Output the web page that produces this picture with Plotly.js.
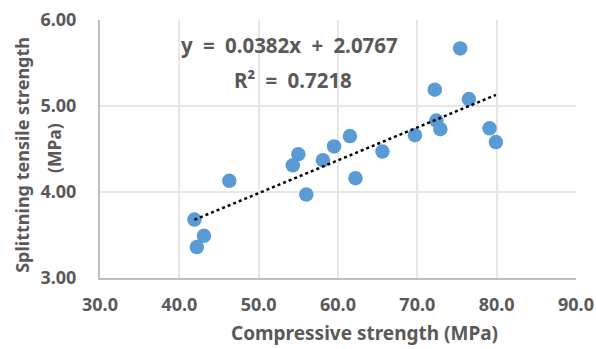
<!DOCTYPE html>
<html><head><meta charset="utf-8">
<script src="https://cdn.plot.ly/plotly-3.0.1.min.js"></script>
<style>body{margin:0;background:#fff}#c{width:596px;height:349px}</style>
</head><body><div id="c"></div>
<script>
const compressive = [41.9, 42.2, 43.1, 46.3, 54.3, 55.0, 56.0, 58.1, 59.5, 61.5, 62.2, 65.6, 69.7, 72.2, 72.4, 72.9, 75.4, 76.5, 79.1, 79.9];
const tensile     = [3.68, 3.36, 3.49, 4.13, 4.31, 4.44, 3.97, 4.37, 4.53, 4.65, 4.16, 4.47, 4.66, 5.19, 4.83, 4.73, 5.67, 5.08, 4.74, 4.58];
const slope = 0.0382, intercept = 2.0767, r2 = 0.7218;
const xTicks = [30, 40, 50, 60, 70, 80, 90];
const yTicks = [3, 4, 5, 6];
const xTitle = 'Compressive strength (MPa)';
const yTitleLines = ['Splittning tensile strength', '(MPa)'];

const xMin = Math.min(...compressive), xMax = Math.max(...compressive);
const trendX = [xMin, xMax];
const trendY = trendX.map(v => slope * v + intercept);

const fontFam = "Noto Sans, Open Sans, sans-serif";
const grey = "#595959";
const sp = '\u2002';
const f = s => ({family: fontFam, size: s, color: grey, weight: 'bold'});
const ann = (x, y, text, size, angle) => ({xref: 'paper', yref: 'paper', x: x, y: y,
  xanchor: 'center', yanchor: 'middle', showarrow: false, text: text, font: f(size),
  textangle: angle || 0});

const data = [
  {x: compressive, y: tensile, type: 'scatter', mode: 'markers',
   marker: {color: '#5b9bd5', size: 14.5}, showlegend: false, hoverinfo: 'skip'},
  {x: trendX, y: trendY, type: 'scatter', mode: 'lines',
   line: {color: '#000', width: 2.5, dash: 'dot'}, showlegend: false, hoverinfo: 'skip'}
];
const layout = {
  width: 596, height: 349,
  margin: {l: 100, r: 20, t: 20, b: 71},
  paper_bgcolor: '#fff', plot_bgcolor: '#fff',
  font: f(17),
  xaxis: {range: [30, 90], tickvals: xTicks, ticktext: xTicks.map(v => v.toFixed(1)),
    showgrid: true, gridcolor: '#e6e6e6', gridwidth: 2, zeroline: false,
    showline: true, linecolor: '#bfbfbf', linewidth: 2, ticks: '', ticklabelstandoff: 9,
    tickfont: f(18)},
  yaxis: {range: [3, 6], tickvals: yTicks, ticktext: yTicks.map(v => v.toFixed(2)),
    showgrid: true, gridcolor: '#e6e6e6', gridwidth: 2, zeroline: false,
    showline: true, linecolor: '#bfbfbf', linewidth: 2, ticks: '', ticklabelstandoff: 18,
    tickfont: f(18)},
  annotations: [
    ann(0.399, 0.903, 'y' + sp + '=' + sp + slope.toFixed(4) + 'x' + sp + '+' + sp + intercept.toFixed(4), 20.5),
    ann(0.405, 0.767, 'R²' + sp + '=' + sp + r2.toFixed(4), 20.5),
    ann(0.555, -0.213, xTitle, 19),
    ann(-0.164, 0.477, yTitleLines[0], 18, -90),
    ann(-0.0966, 0.504, yTitleLines[1], 17.5, -90)
  ]
};
Plotly.newPlot('c', data, layout, {staticPlot: true, displayModeBar: false});
</script></body></html>
